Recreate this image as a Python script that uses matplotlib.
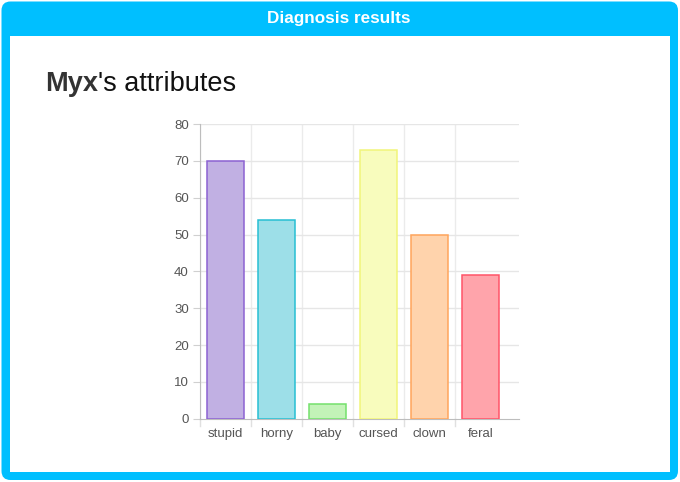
import matplotlib.pyplot as plt
from matplotlib.patches import FancyBboxPatch, Rectangle

plt.rcParams['font.family'] = ['Liberation Sans', 'DejaVu Sans']

# data
categories = ['stupid', 'horny', 'baby', 'cursed', 'clown', 'feral']
values = [70, 54, 4, 73, 50, 39]
fill_colors = ['#c1b0e3', '#9ddfe8', '#c3f3b8', '#f8fcbd', '#ffd3ac', '#ffa4ab']
edge_colors = ['#8c62d2', '#27bfd3', '#74e06c', '#f1f57a', '#ffa55c', '#ff5468']
y_ticks = [0, 10, 20, 30, 40, 50, 60, 70, 80]

W, H = 680, 482
fig = plt.figure(figsize=(W / 100, H / 100), dpi=100)

# frame in pixel coordinates
bg = fig.add_axes([0, 0, 1, 1])
bg.set_xlim(0, W)
bg.set_ylim(H, 0)
bg.axis('off')
bg.add_patch(FancyBboxPatch((1.5, 1.5), W - 3.5, H - 3.5,
                            boxstyle='round,pad=0,rounding_size=9',
                            fc='#00bfff', ec='none'))
bg.add_patch(Rectangle((9.5, 35.5), 660, 436, fc='white', ec='none'))
bg.text(339, 19, 'Diagnosis results', color='white', fontsize=12.3,
        fontweight='bold', ha='center', va='center')

t1 = bg.text(45, 91, 'Myx', fontsize=19.5, fontweight='bold', color='#333333',
             va='baseline', ha='left')
bg.annotate("'s attributes", xy=(1, 0), xycoords=t1, fontsize=19.5,
            color='#111111', va='bottom', ha='left')

# chart
ax = fig.add_axes([200 / W, 1 - 418.7 / H, 319 / W, (418.7 - 124) / H])
x = list(range(len(categories)))
ax.bar(x, values, width=0.72, color=fill_colors, edgecolor=edge_colors,
       linewidth=1.1, zorder=3)

ax.set_xlim(-0.5, 5.755)
ax.set_ylim(0, 80)
ax.set_yticks(y_ticks)
ax.set_xticks(x)
ax.set_xticklabels(categories)

for b in [i - 0.5 for i in range(len(categories))]:
    ax.axvline(b, color='#ebebeb', lw=1, zorder=1)
    ax.plot([b, b], [0, -2], color='#e0e0e0', lw=1, clip_on=False, zorder=1)
for yv in y_ticks[1:]:
    ax.axhline(yv, color='#e6e6e6', lw=1, zorder=1)

for s in ['top', 'right']:
    ax.spines[s].set_visible(False)
ax.spines['left'].set_color('#bdbdbd')
ax.spines['bottom'].set_color('#bdbdbd')
ax.tick_params(axis='x', length=0, pad=7, labelsize=9.5, labelcolor='#555555')
ax.tick_params(axis='y', length=5, color='#d0d0d0', pad=3, labelsize=9.5,
               labelcolor='#555555')

fig.savefig('out.png', dpi=100)
